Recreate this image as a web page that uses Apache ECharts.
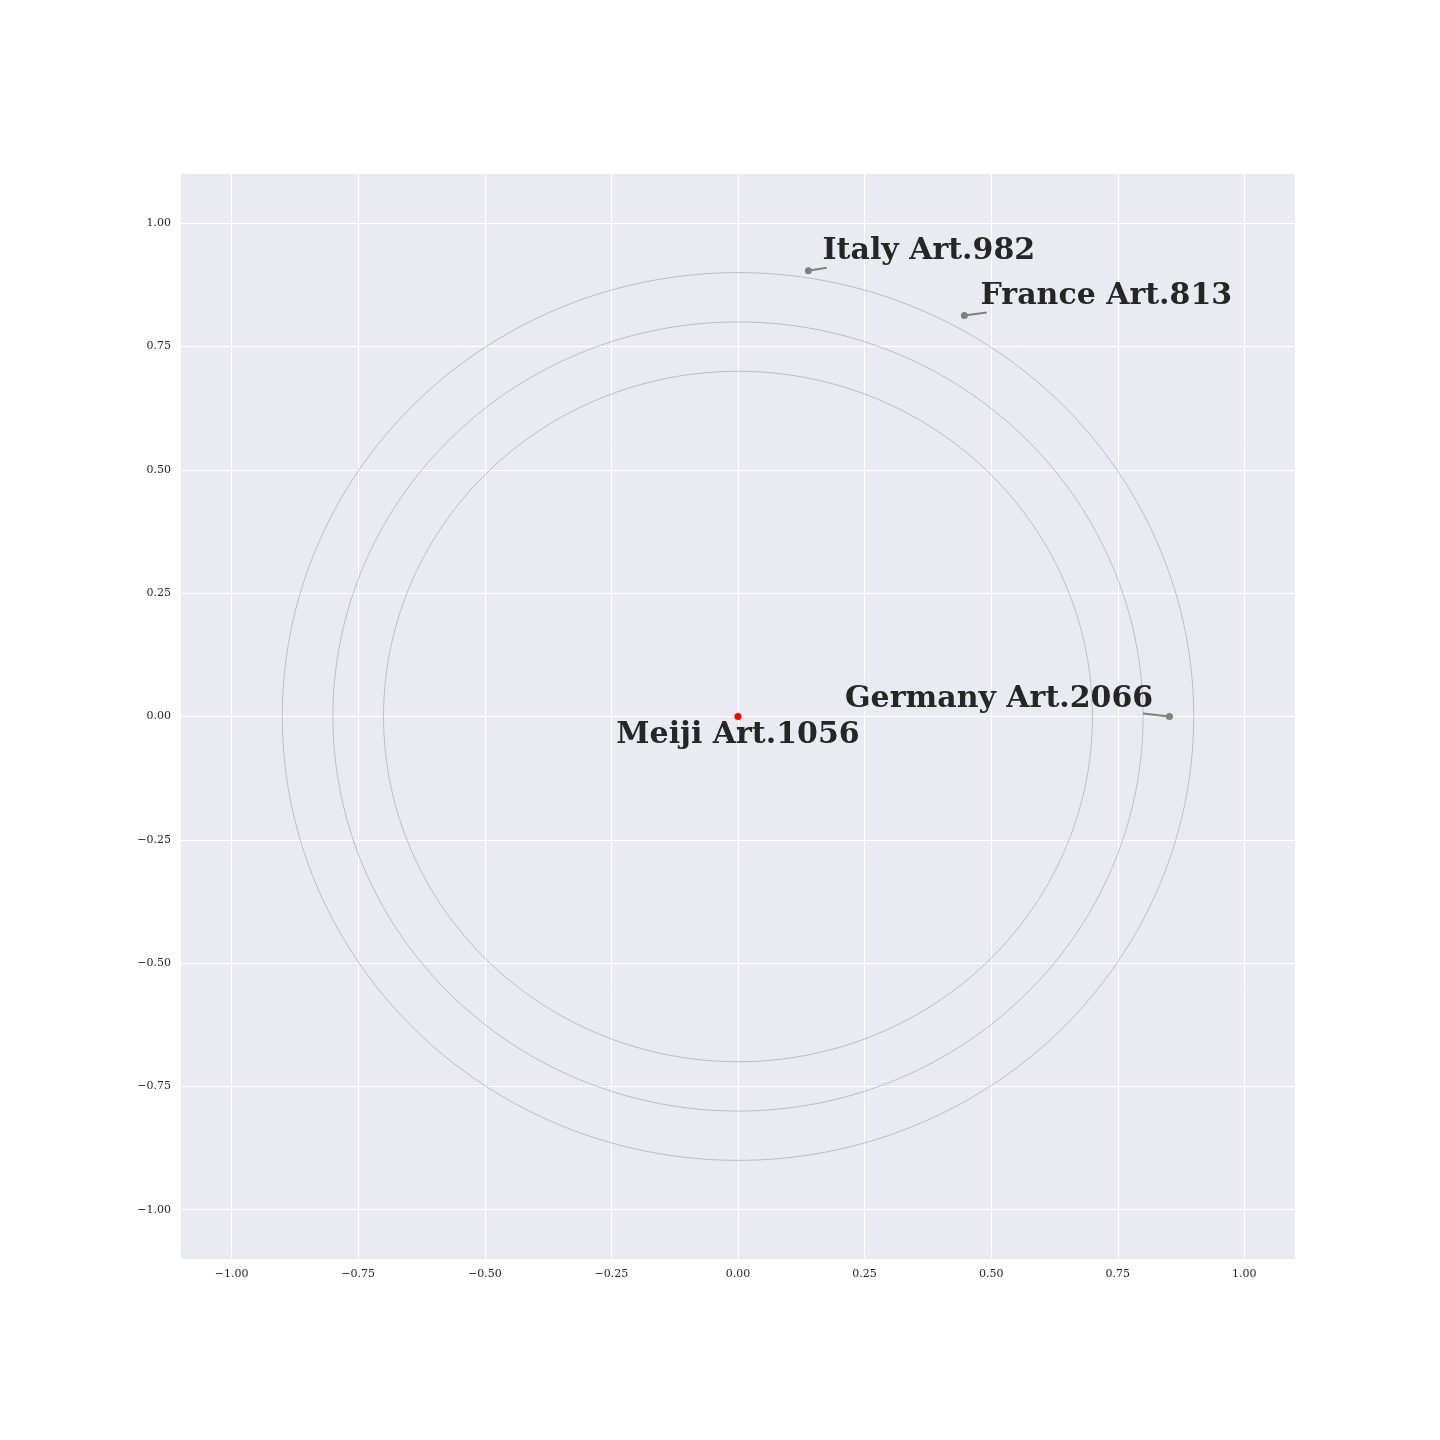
<!DOCTYPE html>
<html><head><meta charset="utf-8">
<script src="https://cdn.jsdelivr.net/npm/echarts@6/dist/echarts.min.js"></script>
<style>html,body{margin:0;padding:0;background:#fff}#c{width:1440px;height:1440px}</style>
</head><body><div id="c"></div>
<script>
// Data
const names = ['Meiji', 'Italy', 'France', 'Germany'];
const counts = [1056, 982, 813, 2066];
const pointX = [0.0, 0.139, 0.447, 0.852];
const pointY = [0.0, 0.904, 0.813, 0.0];
const pointColors = ['#ff0000', '#808080', '#808080', '#808080'];
const textX = [0.0, 0.167, 0.479, 0.82];
const textY = [-0.037, 0.944, 0.853, 0.036];
const textAlign = ['center', 'left', 'left', 'right'];
const leaderEndX = [null, 0.175, 0.491, 0.80];
const leaderEndY = [null, 0.910, 0.819, 0.006];
const ringRadii = [0.7, 0.8, 0.9];
const tickValues = [-1.0, -0.75, -0.5, -0.25, 0.0, 0.25, 0.5, 0.75, 1.0];

const fmt = v => v.toFixed(2).replace('-', '\u2212');

function ring(r) {
  const pts = [];
  for (let a = 0; a <= 360; a += 1) {
    const t = a * Math.PI / 180;
    pts.push([r * Math.cos(t), r * Math.sin(t)]);
  }
  return pts;
}

const series = [];
ringRadii.forEach(r => series.push({
  type: 'line', data: ring(r), showSymbol: false, symbol: 'none', silent: true,
  lineStyle: { color: '#9a9a9a', width: 0.55 }, z: 2
}));
for (let i = 0; i < names.length; i++) {
  if (leaderEndX[i] !== null) {
    series.push({
      type: 'line', data: [[pointX[i], pointY[i]], [leaderEndX[i], leaderEndY[i]]],
      showSymbol: false, symbol: 'none', silent: true,
      lineStyle: { color: '#808080', width: 2 }, z: 3
    });
  }
}
series.push({
  type: 'scatter', symbolSize: 7, z: 4,
  data: names.map((n, i) => ({ value: [pointX[i], pointY[i]], itemStyle: { color: pointColors[i], opacity: 1 } }))
});
series.push({
  type: 'scatter', symbolSize: 0, z: 5, silent: true,
  itemStyle: { opacity: 1 },
  data: names.map((n, i) => ({
    value: [textX[i], textY[i]],
    label: {
      show: true, position: [0, 0], align: textAlign[i], verticalAlign: 'middle',
      formatter: n + ' Art.' + counts[i],
      fontFamily: 'DejaVu Serif', fontWeight: 'bold', fontSize: 30, color: '#262626', opacity: 1
    }
  }))
});

const axisCommon = {
  type: 'value', min: -1.1, max: 1.1,
  axisLine: { show: false }, axisTick: { show: false, customValues: tickValues },
  axisLabel: { customValues: tickValues, formatter: fmt, fontFamily: 'DejaVu Serif', fontSize: 11, color: '#262626', margin: 10 },
  splitLine: { show: true, lineStyle: { color: '#ffffff', width: 1 } }
};

const chart = echarts.init(document.getElementById('c'));
chart.setOption({
  animation: false,
  backgroundColor: '#ffffff',
  grid: { left: 181, right: 145, top: 174, bottom: 181, show: true, backgroundColor: '#eaeaf2', borderWidth: 0 },
  xAxis: Object.assign({}, axisCommon),
  yAxis: Object.assign({}, axisCommon),
  series: series
});
</script></body></html>
